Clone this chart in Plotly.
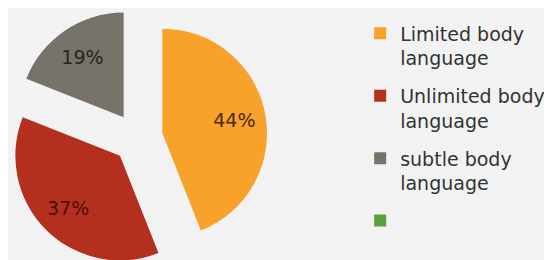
import plotly.graph_objects as go

labels = ["Limited body<br>language", "Unlimited body<br>language", "subtle body<br>language", " "]
values = [44, 37, 19, 0]
colors = ["#F8A12B", "#B3301F", "#77726A", "#5C9E3C"]
text_colors = ["#4a2a06", "#4d0d08", "#262421", "#222222"]
pulls = [0.24, 0.24, 0.24, 0]

texts = [f"{v}%" if v > 0 else "" for v in values]

domain = dict(x=[0.0, 0.47], y=[0.0, 1.0])
font_family = "DejaVu Sans, Verdana, sans-serif"

fig = go.Figure()

# filled slices
fig.add_trace(go.Pie(
    labels=labels,
    values=values,
    textinfo="none",
    marker=dict(colors=colors, line=dict(width=0)),
    pull=pulls,
    sort=False,
    direction="clockwise",
    rotation=0,
    domain=domain,
    showlegend=False,
    hoverinfo="skip",
))

# transparent ring that carries the percentage labels further out
fig.add_trace(go.Pie(
    labels=labels,
    values=values,
    text=texts,
    textinfo="text",
    textposition="inside",
    insidetextorientation="horizontal",
    hole=0.4,
    marker=dict(colors=["rgba(0,0,0,0)"] * len(values), line=dict(width=0)),
    textfont=dict(color=text_colors, size=19, family=font_family),
    pull=pulls,
    sort=False,
    direction="clockwise",
    rotation=0,
    domain=domain,
    showlegend=False,
    hoverinfo="skip",
))

# legend entries (one group per category so they can be spaced apart)
for i, (lab, col) in enumerate(zip(labels, colors)):
    fig.add_trace(go.Scatter(
        x=[None], y=[None], mode="markers",
        name=lab,
        legendgroup=f"g{i}",
        marker=dict(symbol="square", size=12, color=col),
        showlegend=True,
        hoverinfo="skip",
    ))

fig.update_layout(
    width=552, height=260,
    margin=dict(l=0, r=0, t=0, b=0),
    paper_bgcolor="#F2F2F2",
    plot_bgcolor="#F2F2F2",
    xaxis=dict(visible=False),
    yaxis=dict(visible=False),
    showlegend=True,
    legend=dict(
        x=0.638, y=0.975, xanchor="left", yanchor="top",
        font=dict(size=19, color="#333333", family=font_family),
        valign="top",
        itemwidth=30,
        tracegroupgap=10,
        bgcolor="rgba(0,0,0,0)",
    ),
)

fig.write_html("out.html")
